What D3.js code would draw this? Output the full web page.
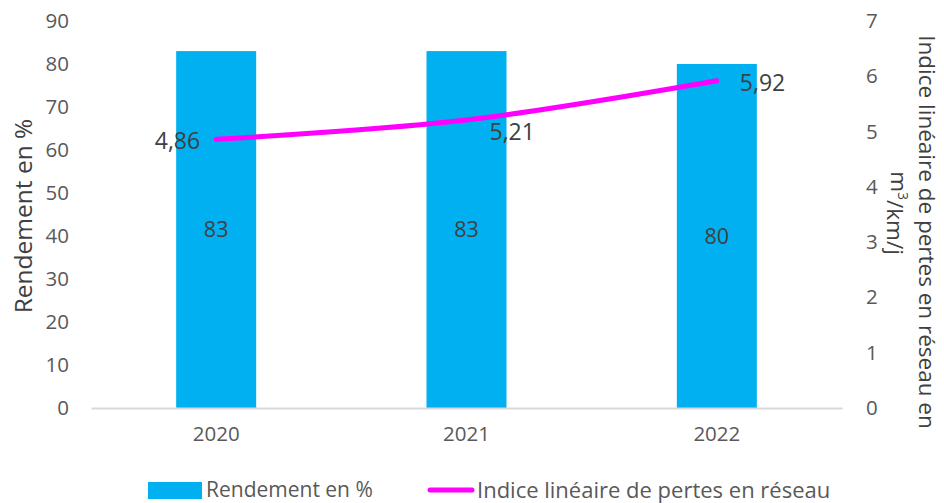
<!doctype html>
<html>
  <head>
    <meta charset="utf-8">
    <script src="https://cdn.jsdelivr.net/npm/d3@7/dist/d3.min.js"></script>
    <style>
      body { margin: 0; background: #fff; }
      text { font-family: "Open Sans", sans-serif; }
    </style>
  </head>
  <body>
    <div id="chart"></div>
    <script>
      // data
      var years = ["2020", "2021", "2022"];
      var rendement = [83, 83, 80];
      var indice = [4.86, 5.21, 5.92];
      var leftTicks = [0, 10, 20, 30, 40, 50, 60, 70, 80, 90];
      var rightTicks = [0, 1, 2, 3, 4, 5, 6, 7];
      // where each line label sits relative to its point
      var labelSide = ["left", "belowright", "right"];

      var W = 944, H = 503;
      var margin = {top: 21, right: 102, bottom: 95, left: 91};
      var width = W - margin.left - margin.right,
          height = H - margin.top - margin.bottom;

      var svg = d3.select("#chart").append("svg")
        .attr("width", W)
        .attr("height", H);
      var g = svg.append("g")
        .attr("transform", "translate(" + margin.left + "," + margin.top + ")");

      var x = d3.scaleBand().domain(years).range([0, width]);
      var yL = d3.scaleLinear().domain([0, 90]).range([height, 0]);
      var yR = d3.scaleLinear().domain([0, 7]).range([height, 0]);

      // left axis
      var axL = g.append("g")
        .call(d3.axisLeft(yL).tickValues(leftTicks).tickSize(0).tickPadding(22));
      axL.select(".domain").remove();
      axL.selectAll("text").attr("fill", "#595959").style("font-size", "20.5px");

      // right axis
      var axR = g.append("g")
        .attr("transform", "translate(" + width + ",0)")
        .call(d3.axisRight(yR).tickValues(rightTicks).tickFormat(d3.format("d")).tickSize(0).tickPadding(24));
      axR.select(".domain").remove();
      axR.selectAll("text").attr("fill", "#595959").style("font-size", "20.5px");

      // bars
      var barW = 80;
      g.selectAll(".bar").data(rendement).enter().append("rect")
        .attr("class", "bar")
        .attr("x", function(d, i) { return x(years[i]) + x.bandwidth() / 2 - barW / 2; })
        .attr("y", function(d) { return yL(d); })
        .attr("width", barW)
        .attr("height", function(d) { return height - yL(d); })
        .attr("fill", "#00b0f0");

      // bottom axis
      var axB = g.append("g")
        .attr("transform", "translate(0," + height + ")")
        .call(d3.axisBottom(x).tickSize(0).tickPadding(18));
      axB.select(".domain").attr("stroke", "#d9d9d9").attr("stroke-width", 2);
      axB.selectAll("text").attr("fill", "#595959").style("font-size", "20.5px");

      // bar labels
      g.selectAll(".blab").data(rendement).enter().append("text")
        .attr("x", function(d, i) { return x(years[i]) + x.bandwidth() / 2; })
        .attr("y", function(d) { return yL(d / 2); })
        .attr("dy", "0.35em")
        .attr("text-anchor", "middle")
        .attr("fill", "#404040")
        .style("font-size", "21.5px")
        .text(function(d) { return d; });

      // line
      var line = d3.line()
        .x(function(d, i) { return x(years[i]) + x.bandwidth() / 2; })
        .y(function(d) { return yR(d); })
        .curve(d3.curveCatmullRom.alpha(0.5));
      g.append("path")
        .datum(indice)
        .attr("d", line)
        .attr("fill", "none")
        .attr("stroke", "#ff00ff")
        .attr("stroke-width", 5)
        .attr("stroke-linecap", "round");

      // line labels
      var fmt = function(v) { return v.toFixed(2).replace(".", ","); };
      g.selectAll(".llab").data(indice).enter().append("text")
        .attr("x", function(d, i) {
          var cx = x(years[i]) + x.bandwidth() / 2;
          return labelSide[i] == "left" ? cx - 16 : cx + 23;
        })
        .attr("y", function(d, i) {
          var cy = yR(d);
          if (labelSide[i] == "belowright") return cy + 12;
          return cy + 2;
        })
        .attr("dy", "0.35em")
        .attr("text-anchor", function(d, i) { return labelSide[i] == "left" ? "end" : "start"; })
        .attr("fill", "#404040")
        .style("font-size", "23px")
        .text(fmt);

      // axis titles
      svg.append("text")
        .attr("transform", "translate(32,216) rotate(-90)")
        .attr("text-anchor", "middle")
        .attr("fill", "#404040")
        .style("font-size", "24.5px")
        .text("Rendement en %");

      svg.append("text")
        .attr("transform", "translate(919,232) rotate(90)")
        .attr("text-anchor", "middle")
        .attr("fill", "#404040")
        .style("font-size", "22.5px")
        .text("Indice linéaire de pertes en réseau en");
      var t2 = svg.append("text")
        .attr("transform", "translate(891,213) rotate(90)")
        .attr("text-anchor", "middle")
        .attr("fill", "#404040")
        .style("font-size", "22.5px");
      t2.append("tspan").text("m");
      t2.append("tspan").attr("dy", "-0.5em").style("font-size", "14px").text("3");
      t2.append("tspan").attr("dy", "0.5em").text("/km/j");

      // legend
      var leg = svg.append("g").attr("transform", "translate(0,490)");
      leg.append("rect").attr("x", 148).attr("y", -8).attr("width", 54).attr("height", 17).attr("fill", "#00b0f0");
      leg.append("text").attr("x", 206).attr("y", 0).attr("dy", "0.35em")
        .attr("fill", "#595959").style("font-size", "21px").text("Rendement en %");
      leg.append("line").attr("x1", 430).attr("x2", 472).attr("y1", 0).attr("y2", 0)
        .attr("stroke", "#ff00ff").attr("stroke-width", 5).attr("stroke-linecap", "round");
      leg.append("text").attr("x", 477).attr("y", 0).attr("dy", "0.35em")
        .attr("fill", "#595959").style("font-size", "22px").text("Indice linéaire de pertes en réseau");
    </script>
  </body>
</html>
